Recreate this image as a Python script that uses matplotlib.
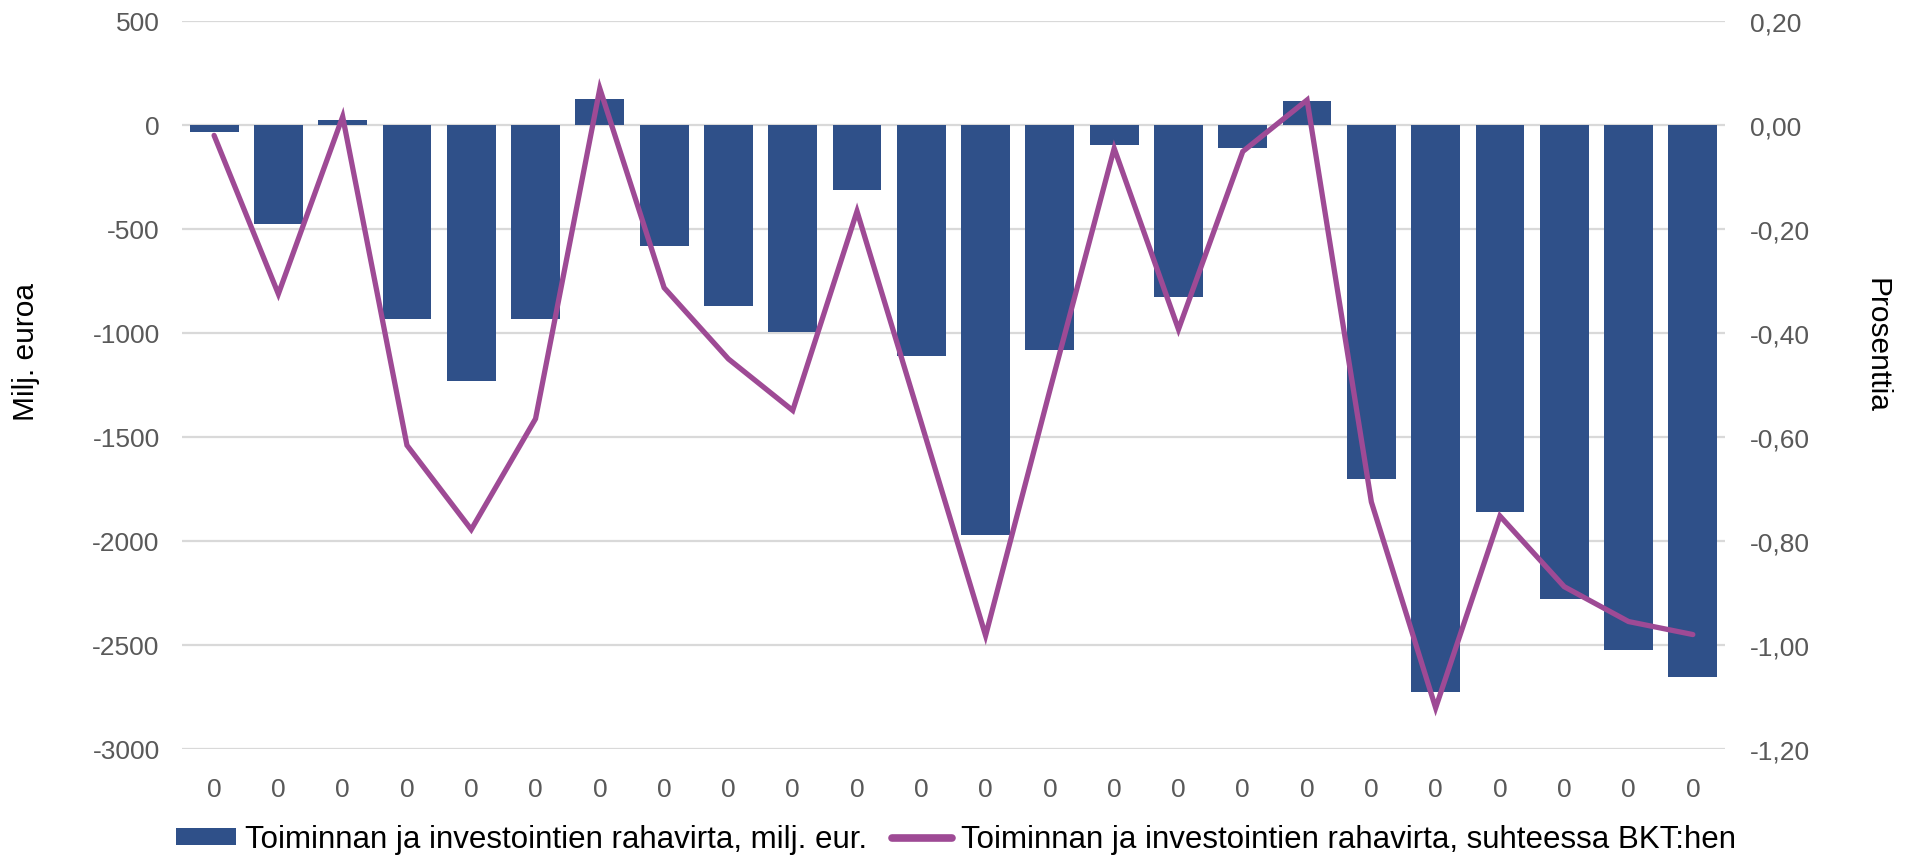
import matplotlib
matplotlib.use('Agg')
import matplotlib.pyplot as plt
from matplotlib.patches import Patch
from matplotlib.lines import Line2D
from matplotlib.ticker import FuncFormatter

plt.rcParams['font.family'] = ['Liberation Sans', 'DejaVu Sans']
plt.rcParams['axes.unicode_minus'] = False

######################
# Data
categories = ['0'] * 24
cash_flow = [-32, -474, 22, -933, -1233, -933, 123, -583, -872, -995,
             -312, -1109, -1970, -1082, -94, -826, -109, 115, -1700,
             -2726, -1862, -2279, -2522, -2654]
share_of_gdp = [-0.02, -0.325, 0.016, -0.616, -0.778, -0.565, 0.070, -0.313,
                -0.450, -0.549, -0.166, -0.573, -0.982, -0.51, -0.045, -0.393,
                -0.051, 0.048, -0.725, -1.121, -0.752, -0.888, -0.955, -0.980]
bar_label = 'Toiminnan ja investointien rahavirta, milj. eur.'
line_label = 'Toiminnan ja investointien rahavirta, suhteessa BKT:hen'

bar_color = '#2F5089'
line_color = '#9E4A95'
grid_color = '#D9D9D9'
tick_color = '#595959'

######################
# Figure
fig = plt.figure(figsize=(19.05, 8.62), dpi=100)
ax = fig.add_axes([0.0955, 0.13, 0.81, 0.8445])
ax2 = ax.twinx()

x = list(range(len(categories)))
ax.bar(x, cash_flow, width=0.76, color=bar_color, zorder=2)
ax2.plot(x, share_of_gdp, color=line_color, lw=3.8,
         solid_joinstyle='miter', solid_capstyle='round', zorder=3)

# left axis
ax.set_ylim(-3000, 500)
ax.set_yticks(range(-3000, 501, 500))
ax.set_xlim(-0.5, len(categories) - 0.5)
ax.set_xticks(x)
ax.set_xticklabels(categories)
ax.yaxis.grid(True, color=grid_color, lw=1.6, zorder=0)
ax.set_axisbelow(True)

# right axis
ax2.set_ylim(-1.2, 0.2)
ax2.set_yticks([0.2, 0.0, -0.2, -0.4, -0.6, -0.8, -1.0, -1.2])
ax2.yaxis.set_major_formatter(
    FuncFormatter(lambda v, p: ('%.2f' % v).replace('.', ',').replace('-0,00', '0,00')))

for a in (ax, ax2):
    for s in a.spines.values():
        s.set_visible(False)
    a.tick_params(length=0, labelsize=19, colors=tick_color)
ax.tick_params(axis='y', pad=16)
ax.tick_params(axis='x', pad=20)
ax2.tick_params(axis='y', pad=18)

ax.set_ylabel('Milj. euroa', fontsize=21.5, color='black')
ax2.set_ylabel('Prosenttia', fontsize=21.5, color='black', rotation=270,
               va='bottom')
ax.yaxis.set_label_coords(-0.092, 0.547)
ax2.yaxis.set_label_coords(1.089, 0.556)

handles = [Patch(facecolor=bar_color, label=bar_label),
           Line2D([0], [0], color=line_color, lw=5.5, solid_capstyle='round',
                  label=line_label)]
fig.legend(handles=handles, loc='center', bbox_to_anchor=(0.502, 0.025),
           ncol=2, frameon=False, fontsize=22.5, handlelength=1.9,
           handleheight=0.48, handletextpad=0.3, columnspacing=0.8)

fig.savefig('out.png', dpi=100)
